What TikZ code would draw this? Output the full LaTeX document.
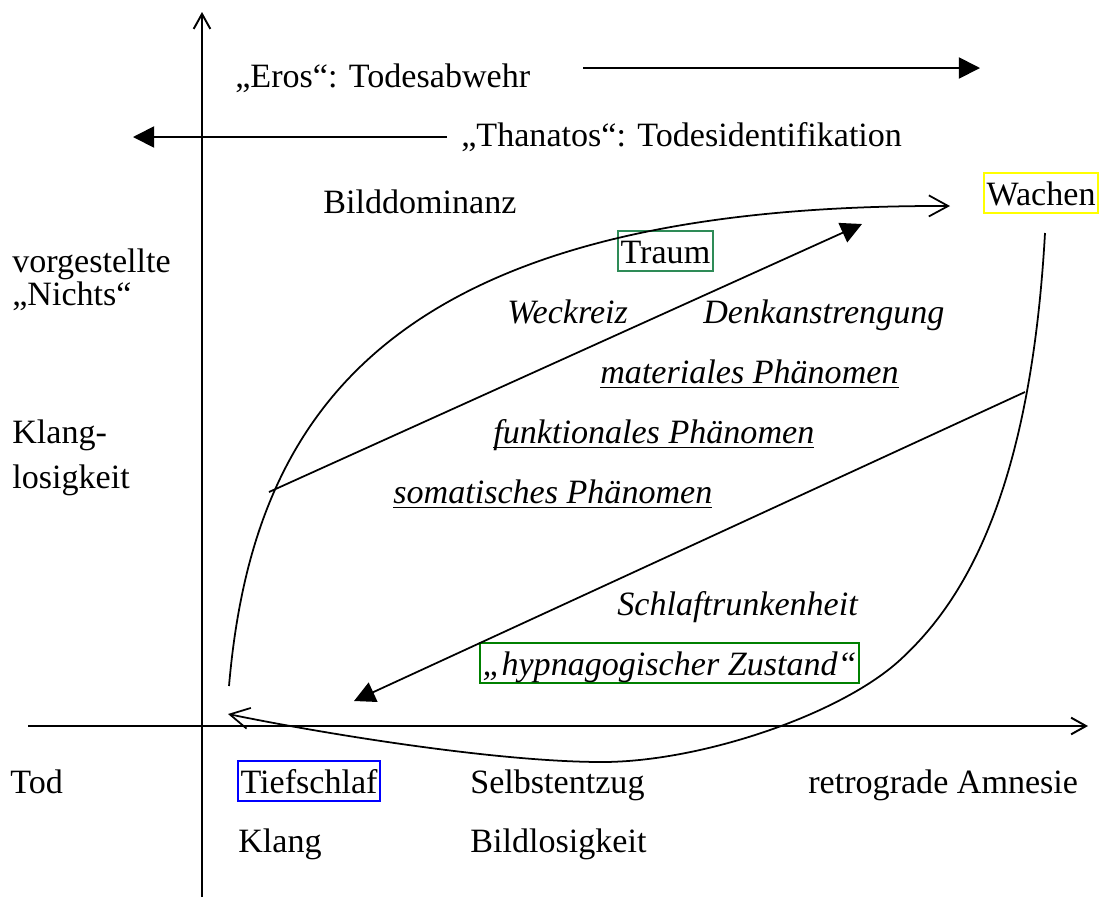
\documentclass[tikz,border=0pt]{standalone}
\usepackage{fontspec}
\setmainfont{Liberation Serif}
\usetikzlibrary{arrows.meta}
\definecolor{traumgreen}{RGB}{46,139,87}
\definecolor{hypgreen}{RGB}{0,128,0}
\definecolor{wachyellow}{RGB}{255,255,0}
\newcommand{\bigsize}{\fontsize{19.4}{23}\selectfont}
\newcommand{\unterstr}[1]{\setbox0\hbox{#1}\rlap{\rule[-3pt]{\wd0}{1pt}}\box0}

\begin{document}
\begin{tikzpicture}[x=0.02cm, y=-0.02cm,
  lbl/.style={anchor=base west, inner sep=0pt, font=\bigsize},
  ital/.style={lbl, font=\bigsize\itshape},
  boxed/.style={draw, line width=1.1pt, inner xsep=1.5pt, inner ysep=0pt, text height=18pt, text depth=4.6pt},
  axis/.style={line width=1.1pt, -{Straight Barb[length=8.5pt, width=9.5pt]}},
  open/.style={line width=1pt, -{Straight Barb[length=11pt, width=12pt]}},
  fullarrow/.style={line width=1pt, -{Triangle[length=12pt, width=12pt]}}]

\useasboundingbox (0,0) rectangle (1099,897);

% axes
\coordinate (ybot) at (202,897);
\coordinate (ytop) at (202,12);
\coordinate (xleft) at (28,726);
\coordinate (xright) at (1088,726);
\draw[axis] (ybot) -- (ytop);
\draw[axis] (xleft) -- (xright);

% top
\node[lbl] (eros) at (235,87) {„Eros“: Todesabwehr};
\node[lbl] (thanatos) at (461,146) {„Thanatos“: Todesidentifikation};
\coordinate (erosA) at (583,68);
\coordinate (erosB) at (980,68);
\coordinate (thanA) at (447,137);
\coordinate (thanB) at (133,137);
\draw[fullarrow] (erosA) -- (erosB);
\draw[fullarrow] (thanA) -- (thanB);

% labels
\node[lbl] (bild) at (323,213) {Bilddominanz};
\node[lbl, boxed, draw=wachyellow] (wachen) at (983,205) {Wachen};
\node[lbl, boxed, draw=traumgreen] (traum) at (617,263) {Traum};
\node[lbl] (vorg) at (12,272) {vorgestellte};
\node[lbl] (nichts) at (12,305) {„Nichts“};
\node[lbl] (klang1) at (12,443) {Klang-};
\node[lbl] (losig) at (12,488) {losigkeit};
\node[ital] (weck) at (507,323) {Weckreiz};
\node[ital] (denk) at (703,323) {Denkanstrengung};
\node[ital] (mat) at (600,383) {\unterstr{materiales Phänomen}};
\node[ital] (funk) at (493,443) {\unterstr{funktionales Phänomen}};
\node[ital] (soma) at (393,503) {\unterstr{somatisches Phänomen}};
\node[ital] (schlaf) at (617,615) {Schlaftrunkenheit};
\node[ital, boxed, draw=hypgreen] (hypno) at (479,675) {„hypnagogischer Zustand“};

% bottom
\node[lbl] (tod) at (10,793) {Tod};
\node[lbl, boxed, draw=blue] (tief) at (237,793) {Tiefschlaf};
\node[lbl] (selbst) at (470,793) {Selbstentzug};
\node[lbl] (amnesie) at (808,793) {retrograde Amnesie};
\node[lbl] (klang) at (238,852) {Klang};
\node[lbl] (bildlos) at (470,852) {Bildlosigkeit};

% curves
\coordinate (lstart) at (229,686);
\coordinate (ljoin) at (269,492);
\coordinate (lend) at (950,206);
\coordinate (rstart) at (1045,233);
\coordinate (rjoin) at (1025,392);
\coordinate (rbend) at (900,660);
\coordinate (rlow) at (602,762);
\coordinate (rend) at (228,714);
\coordinate (uptip) at (862,224);
\coordinate (downtip) at (354,701);

\draw[open] (lstart) .. controls (252,420) and (380,204) .. (lend);
\draw[open] (rstart) .. controls (1030,500) and (960,605) .. (rbend)
  .. controls (840,715) and (700,762) .. (rlow)
  .. controls (500,762) and (330,735) .. (rend);

\draw[fullarrow] (ljoin) -- (uptip);
\draw[fullarrow] (rjoin) -- (downtip);
\end{tikzpicture}
\end{document}
